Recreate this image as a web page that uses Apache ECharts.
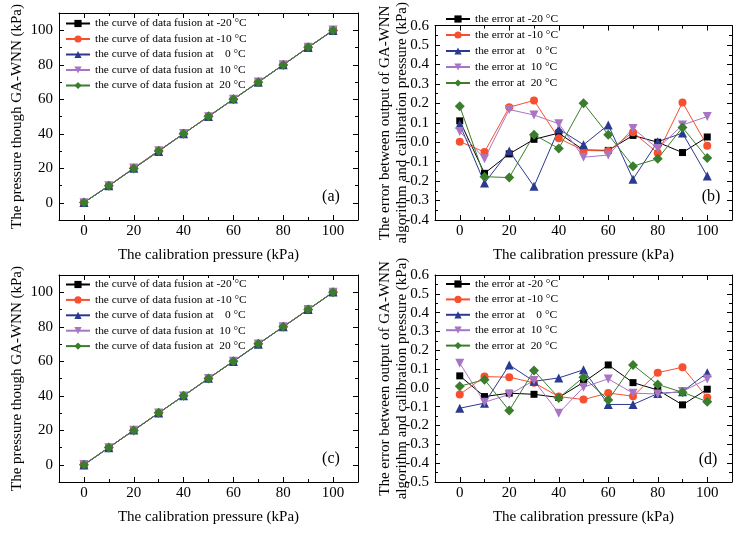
<!DOCTYPE html>
<html>
<head>
<meta charset="utf-8">
<script src="https://cdn.jsdelivr.net/npm/echarts@6.0.0/dist/echarts.min.js"></script>
<style>
  html, body { margin: 0; padding: 0; background: #fff; }
  #chart { width: 742px; height: 535px; }
</style>
</head>
<body>
<div id="chart"></div>
<script>
// calibration pressure (kPa)
const pressure = [0, 10, 20, 30, 40, 50, 60, 70, 80, 90, 100];

// (a) output of GA-WNN, first data set
const fusedA_m20 = [0.11, 9.84, 19.94, 30.02, 40.05, 49.96, 59.96, 70.04, 80.0, 89.95, 100.03];
const fusedA_m10 = [0.0, 9.95, 20.18, 30.22, 40.02, 49.96, 59.96, 70.05, 79.94, 90.21, 99.98];
const fusedA_0 = [0.09, 9.79, 19.96, 29.77, 40.07, 49.99, 60.09, 69.81, 80.0, 90.05, 99.83];
const fusedA_10 = [0.06, 9.92, 20.17, 30.14, 40.1, 49.92, 59.93, 70.07, 79.97, 90.09, 100.13];
const fusedA_20 = [0.19, 9.82, 19.82, 30.04, 39.97, 50.2, 60.04, 69.88, 79.92, 90.08, 99.92];

// (b) errors, first data set
const errB_m20 = [0.11, -0.16, -0.06, 0.015, 0.047, -0.04, -0.042, 0.035, 0.0, -0.053, 0.027];
const errB_m10 = [0.003, -0.05, 0.18, 0.215, 0.02, -0.042, -0.045, 0.052, -0.056, 0.205, -0.018];
const errB_0 = [0.092, -0.21, -0.045, -0.227, 0.068, -0.013, 0.089, -0.19, 0.003, 0.047, -0.174];
const errB_10 = [0.055, -0.085, 0.168, 0.14, 0.095, -0.077, -0.066, 0.071, -0.032, 0.089, 0.132];
const errB_20 = [0.185, -0.177, -0.182, 0.039, -0.032, 0.2, 0.039, -0.123, -0.085, 0.076, -0.081];

// (c) output of GA-WNN, second data set
const fusedC_m20 = [0.06, 9.95, 19.97, 29.97, 39.95, 50.03, 60.12, 70.03, 79.99, 89.91, 99.99];
const fusedC_m10 = [-0.04, 10.06, 20.06, 30.03, 39.95, 49.94, 59.97, 69.96, 80.08, 90.11, 99.95];
const fusedC_0 = [-0.11, 9.92, 20.12, 30.04, 40.05, 50.1, 59.91, 69.91, 79.97, 89.98, 100.08];
const fusedC_10 = [0.13, 9.92, 19.97, 30.04, 39.87, 50.0, 60.05, 69.97, 79.97, 89.98, 100.05];
const fusedC_20 = [0.01, 10.04, 19.88, 30.09, 39.95, 50.06, 59.94, 70.12, 80.02, 89.98, 99.93];

// (d) errors, second data set
const errD_m20 = [0.064, -0.046, -0.028, -0.034, -0.051, 0.03, 0.122, 0.028, -0.011, -0.09, -0.007];
const errD_m10 = [-0.035, 0.06, 0.057, 0.027, -0.046, -0.062, -0.027, -0.044, 0.081, 0.11, -0.051];
const errD_0 = [-0.108, -0.081, 0.122, 0.035, 0.053, 0.096, -0.088, -0.088, -0.03, -0.02, 0.08];
const errD_10 = [0.131, -0.076, -0.035, 0.039, -0.134, 0.004, 0.048, -0.028, -0.032, -0.019, 0.048];
const errD_20 = [0.009, 0.044, -0.12, 0.092, -0.053, 0.057, -0.064, 0.122, 0.018, -0.023, -0.073];

const fusionNames = [
  'the curve of data fusion at -20 °C',
  'the curve of data fusion at -10 °C',
  'the curve of data fusion at    0 °C',
  'the curve of data fusion at  10 °C',
  'the curve of data fusion at  20 °C'
];
const errorNames = [
  'the error at -20 °C',
  'the error at -10 °C',
  'the error at    0 °C',
  'the error at  10 °C',
  'the error at  20 °C'
];

// tick labels
const xTicks = [0, 20, 40, 60, 80, 100];
const xMinor = [10, 30, 50, 70, 90];
const yTicksFused = [0, 20, 40, 60, 80, 100];
const yMinorFused = [10, 30, 50, 70, 90];
const yTicksErrB = [-0.4, -0.3, -0.2, -0.1, 0, 0.1, 0.2, 0.3, 0.4, 0.5, 0.6];
const yMinorErrB = [-0.35, -0.25, -0.15, -0.05, 0.05, 0.15, 0.25, 0.35, 0.45, 0.55];
const yTicksErrD = [-0.5, -0.4, -0.3, -0.2, -0.1, 0, 0.1, 0.2, 0.3, 0.4, 0.5, 0.6];
const yMinorErrD = [-0.45, -0.35, -0.25, -0.15, -0.05, 0.05, 0.15, 0.25, 0.35, 0.45, 0.55];

const FONT = '"Liberation Serif", "Times New Roman", serif';
const colors = ['#000000', '#f84f2f', '#2b3990', '#a875c4', '#3a7d2d'];
const symbols = ['rect', 'circle', 'triangle', 'triangle', 'diamond'];
const symbolSizes = [7, 8, 9, 9, 10];
const symbolRot = [0, 0, 0, 180, 0];

const grids = [
  { left: 59, top: 13, width: 299, height: 207 },
  { left: 435, top: 13, width: 297, height: 207 },
  { left: 59, top: 275, width: 299, height: 207 },
  { left: 435, top: 275, width: 297, height: 207 }
];

// four axes per dimension: labelled main + minor ticks, and the mirrored pair
function frame(gridIndex, dim, min, max, majors, minors, fmt, name, nameGap) {
  const sides = dim === 'x' ? ['bottom', 'top'] : ['left', 'right'];
  const out = [];
  sides.forEach((pos, s) => {
    out.push({
      type: 'value', gridIndex, position: pos, min, max,
      axisLine: { show: true, onZero: false, lineStyle: { color: '#000', width: 1 } },
      axisTick: { show: true, inside: true, length: 5, customValues: majors, lineStyle: { color: '#000' } },
      axisLabel: {
        show: s === 0, customValues: majors, formatter: fmt,
        fontFamily: FONT, fontSize: 15, color: '#000', margin: dim === 'x' ? 4 : 6
      },
      splitLine: { show: false },
      name: s === 0 ? name : '',
      nameLocation: 'middle',
      nameGap,
      nameMoveOverlap: false,
      nameRotate: dim === 'y' ? 90 : 0,
      nameTextStyle: { fontFamily: FONT, fontSize: 15, color: '#000', lineHeight: 17 }
    });
    out.push({
      type: 'value', gridIndex, position: pos, min, max,
      axisLine: { show: false, onZero: false },
      axisTick: { show: true, inside: true, length: 3, customValues: minors, lineStyle: { color: '#000' } },
      axisLabel: { show: false },
      splitLine: { show: false }
    });
  });
  return out;
}

const intFmt = v => String(v);
const decFmt = v => v.toFixed(1);
const xName = 'The calibration pressure (kPa)';
const yNameFused = 'The pressure though GA-WNN (kPa)';
const yNameErr = 'The error between output of GA-WNN\nalgorithm and calibration pressure (kPa)';

const xAxes = [], yAxes = [];
[
  [yTicksFused, yMinorFused, -10, 110, intFmt, yNameFused, 33],
  [yTicksErrB, yMinorErrB, -0.4, 0.6, decFmt, yNameErr, 24],
  [yTicksFused, yMinorFused, -10, 110, intFmt, yNameFused, 33],
  [yTicksErrD, yMinorErrD, -0.5, 0.6, decFmt, yNameErr, 24]
].forEach(([maj, mnr, lo, hi, fmt, nm, gap], g) => {
  xAxes.push(...frame(g, 'x', -10, 110, xTicks, xMinor, intFmt, xName, 27));
  yAxes.push(...frame(g, 'y', lo, hi, maj, mnr, fmt, nm, gap));
});

const panelData = [
  [fusedA_m20, fusedA_m10, fusedA_0, fusedA_10, fusedA_20],
  [errB_m20, errB_m10, errB_0, errB_10, errB_20],
  [fusedC_m20, fusedC_m10, fusedC_0, fusedC_10, fusedC_20],
  [errD_m20, errD_m10, errD_0, errD_10, errD_20]
];

const series = [];
panelData.forEach((sets, g) => {
  const names = g % 2 === 0 ? fusionNames : errorNames;
  sets.forEach((vals, i) => {
    series.push({
      type: 'line', name: names[i],
      xAxisIndex: g * 4, yAxisIndex: g * 4,
      data: pressure.map((p, k) => [p, vals[k]]),
      symbol: symbols[i], symbolSize: symbolSizes[i], symbolRotate: symbolRot[i],
      showAllSymbol: true,
      itemStyle: { color: colors[i] },
      lineStyle: { color: colors[i], width: 1 },
      emphasis: { disabled: true }
    });
  });
});

const legendPos = [[65, 17, 2.5], [445, 12.5, 3], [65, 278, 2.4], [445, 277.5, 2.4]];
const legends = legendPos.map(([left, top, gap], g) => ({
  orient: 'vertical', left, top, padding: 0,
  itemWidth: 24, itemHeight: 9, itemGap: gap,
  data: g % 2 === 0 ? fusionNames : errorNames,
  textStyle: { fontFamily: FONT, fontSize: 11.4, color: '#000', lineHeight: 13 },
  selectedMode: false
}));

const panelLabels = [['(a)', 331, 197], ['(b)', 711, 197], ['(c)', 331, 459], ['(d)', 708, 460]];

const chart = echarts.init(document.getElementById('chart'), null, { renderer: 'canvas' });
chart.setOption({
  animation: false,
  backgroundColor: '#fff',
  grid: grids,
  xAxis: xAxes,
  yAxis: yAxes,
  legend: legends,
  series,
  graphic: panelLabels.map(([t, x, y]) => ({
    type: 'text', x, y,
    style: { text: t, font: '16px ' + FONT, fill: '#000', textAlign: 'center', textVerticalAlign: 'middle' }
  }))
});
</script>
</body>
</html>
